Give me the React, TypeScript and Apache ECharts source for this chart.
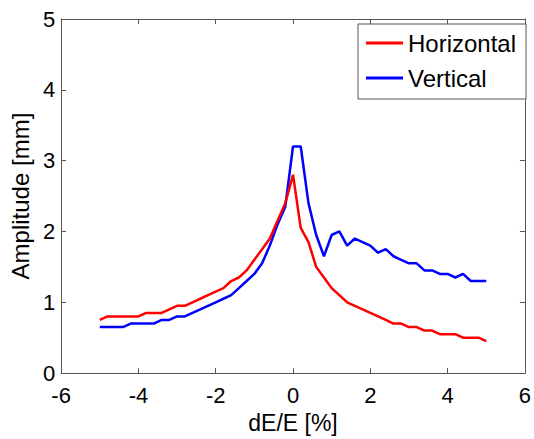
import React, { useEffect, useRef } from "react";
import * as echarts from "echarts";

const dE: number[] = [
  -5, -4.8, -4.6, -4.4, -4.2, -4, -3.8, -3.6, -3.4, -3.2, -3, -2.8, -2.6, -2.4, -2.2, -2, -1.8,
  -1.6, -1.4, -1.2, -1, -0.8, -0.6, -0.4, -0.2, 0, 0.2, 0.4, 0.6, 0.8, 1, 1.2, 1.4, 1.6, 1.8, 2,
  2.2, 2.4, 2.6, 2.8, 3, 3.2, 3.4, 3.6, 3.8, 4, 4.2, 4.4, 4.6, 4.8, 5,
];

const horizontal: number[] = [
  0.75, 0.8, 0.8, 0.8, 0.8, 0.8, 0.85, 0.85, 0.85, 0.9, 0.95, 0.95, 1.0, 1.05, 1.1, 1.15, 1.2,
  1.3, 1.35, 1.45, 1.6, 1.75, 1.9, 2.15, 2.4, 2.8, 2.05, 1.85, 1.5, 1.35, 1.2, 1.1, 1.0, 0.95, 0.9,
  0.85, 0.8, 0.75, 0.7, 0.7, 0.65, 0.65, 0.6, 0.6, 0.55, 0.55, 0.55, 0.5, 0.5, 0.5, 0.45,
];

const vertical: number[] = [
  0.65, 0.65, 0.65, 0.65, 0.7, 0.7, 0.7, 0.7, 0.75, 0.75, 0.8, 0.8, 0.85, 0.9, 0.95, 1.0, 1.05,
  1.1, 1.2, 1.3, 1.4, 1.55, 1.8, 2.1, 2.35, 3.2, 3.2, 2.4, 1.95, 1.65, 1.95, 2.0, 1.8, 1.9, 1.85,
  1.8, 1.7, 1.75, 1.65, 1.6, 1.55, 1.55, 1.45, 1.45, 1.4, 1.4, 1.35, 1.4, 1.3, 1.3, 1.3,
];

const seriesNames = ["Horizontal", "Vertical"];
const xName = "dE/E [%]";
const yName = "Amplitude [mm]";

const FONT = "'Liberation Sans', Arial, Helvetica, sans-serif";
const AXIS_COLOR = "#555555";

export default function App() {
  const ref = useRef<HTMLDivElement>(null);

  useEffect(() => {
    if (!ref.current) return;
    const chart = echarts.init(ref.current, undefined, { renderer: "svg" });
    const axisLine = { show: true, onZero: false, lineStyle: { color: AXIS_COLOR, width: 1 } };
    const axisTick = { show: true, inside: true, length: 5, lineStyle: { color: AXIS_COLOR, width: 1 } };
    chart.setOption({
      animation: false,
      backgroundColor: "#ffffff",
      textStyle: { fontFamily: FONT },
      grid: { left: 60, top: 19, right: 5, bottom: 65, containLabel: false },
      legend: {
        orient: "vertical",
        left: 358,
        top: 24,
        padding: [7, 10, 9, 8],
        icon: "rect",
        itemWidth: 37,
        itemHeight: 3,
        itemGap: 11,
        borderColor: AXIS_COLOR,
        borderWidth: 1,
        backgroundColor: "#ffffff",
        textStyle: { fontSize: 24, lineHeight: 23, color: "#000", fontFamily: FONT },
        data: seriesNames,
      },
      xAxis: [
        {
          type: "value",
          min: -6,
          max: 6,
          interval: 2,
          name: xName,
          nameLocation: "middle",
          nameGap: 28,
          nameTextStyle: { fontSize: 23, color: "#000", fontFamily: FONT },
          axisLine,
          axisTick,
          axisLabel: { fontSize: 22, color: "#000", margin: 11, fontFamily: FONT },
          splitLine: { show: false },
        },
        {
          type: "value",
          position: "top",
          min: -6,
          max: 6,
          interval: 2,
          axisLine,
          axisTick,
          axisLabel: { show: false },
          splitLine: { show: false },
        },
      ],
      yAxis: [
        {
          type: "value",
          min: 0,
          max: 5,
          interval: 1,
          name: yName,
          nameLocation: "middle",
          nameGap: 23,
          nameTextStyle: { fontSize: 24, color: "#000", fontFamily: FONT },
          axisLine,
          axisTick,
          axisLabel: { fontSize: 22, color: "#000", margin: 6, fontFamily: FONT },
          splitLine: { show: false },
        },
        {
          type: "value",
          position: "right",
          min: 0,
          max: 5,
          interval: 1,
          axisLine,
          axisTick,
          axisLabel: { show: false },
          splitLine: { show: false },
        },
      ],
      series: [
        {
          name: seriesNames[0],
          type: "line",
          data: dE.map((x, i) => [x, horizontal[i]]),
          symbol: "none",
          lineStyle: { color: "#ff0000", width: 2.5 },
          itemStyle: { color: "#ff0000" },
          z: 3,
        },
        {
          name: seriesNames[1],
          type: "line",
          data: dE.map((x, i) => [x, vertical[i]]),
          symbol: "none",
          lineStyle: { color: "#0000ff", width: 2.5 },
          itemStyle: { color: "#0000ff" },
          z: 2,
        },
      ],
    });
    return () => chart.dispose();
  }, []);

  return (
    <div
      ref={ref}
      style={{ position: "fixed", left: 0, top: 0, width: 534, height: 439, background: "#fff" }}
    />
  );
}
